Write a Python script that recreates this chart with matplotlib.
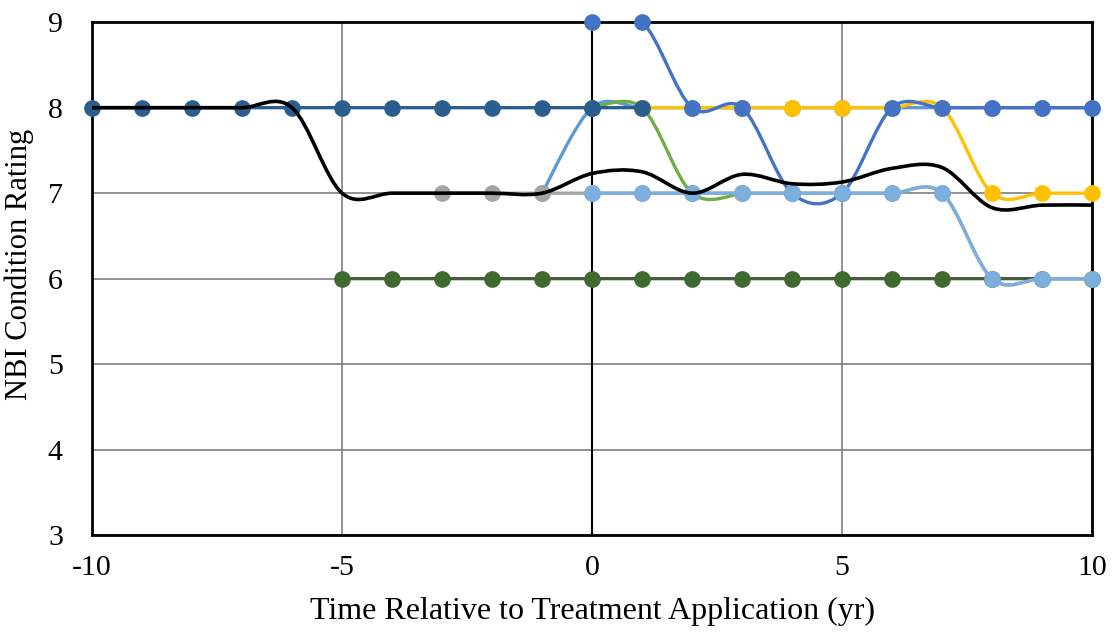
import numpy as np
import matplotlib
matplotlib.use("Agg")
import matplotlib.pyplot as plt
from matplotlib.path import Path
from matplotlib.patches import PathPatch

# ---- data ----
x_steel = list(range(-10, 2))
y_steel = [8] * 12

x_gray = list(range(-3, 11))
y_gray = [7] * 11 + [6, 6, 6]

x_lblue = list(range(-1, 11))
y_lblue = [7] + [8] * 11

x_green = [0, 1, 2, 3]
y_green = [8, 8, 7, 7]

x_gold = list(range(1, 11))
y_gold = [8, 8, 8, 8, 8, 8, 8, 7, 7, 7]

x_dgreen = list(range(-5, 11))
y_dgreen = [6] * 16

x_blue = list(range(0, 11))
y_blue = [9, 9, 8, 8, 7, 7, 8, 8, 8, 8, 8]

x_lblue2 = list(range(0, 11))
y_lblue2 = [7] * 8 + [6, 6, 6]

x_avg = list(range(-10, 11))
y_avg = [8, 8, 8, 8, 8, 7, 7, 7, 7, 7, 7.23, 7.25, 7.0, 7.22, 7.11, 7.13,
         7.29, 7.3, 6.83, 6.86, 6.86]

xticks = [-10, -5, 0, 5, 10]
yticks = [3, 4, 5, 6, 7, 8, 9]

plt.rcParams['font.family'] = ['Liberation Serif', 'DejaVu Serif']
plt.rcParams['axes.unicode_minus'] = False

fig = plt.figure(figsize=(11.14, 6.34), dpi=100)
ax = fig.add_axes([0.0826, 0.156, 0.8977, 0.809])
ax.set_xlim(-10, 10)
ax.set_ylim(3, 9)


def smooth(ax, x, y, color, lw, z, marker=True, mcolor=None, ms=11):
    pts = np.column_stack([x, y]).astype(float)
    n = len(pts)
    verts = [pts[0]]
    codes = [Path.MOVETO]
    for i in range(n - 1):
        p0 = pts[i - 1] if i > 0 else pts[i]
        p1 = pts[i]
        p2 = pts[i + 1]
        p3 = pts[i + 2] if i + 2 < n else pts[i + 1]
        c1 = p1 + (p2 - p0) / 6.0
        c2 = p2 - (p3 - p1) / 6.0
        verts += [c1, c2, p2]
        codes += [Path.CURVE4] * 3
    patch = PathPatch(Path(verts, codes), facecolor='none', edgecolor=color,
                      lw=lw, zorder=z, capstyle='round', joinstyle='round',
                      clip_on=True)
    ax.add_patch(patch)
    if marker:
        ax.plot(x, y, linestyle='none', marker='o', ms=ms,
                color=mcolor or color, zorder=z + 0.1, clip_on=False)


series = [
    (x_lblue, y_lblue, '#5B9BD5', None),
    (x_gray, y_gray, '#A5A5A5', None),
    (x_green, y_green, '#70AD47', None),
    (x_gold, y_gold, '#FFC000', None),
    (x_steel, y_steel, '#2A5E8E', None),
    (x_dgreen, y_dgreen, '#4A5A3E', '#3E6A30'),
    (x_blue, y_blue, '#4472C4', None),
    (x_lblue2, y_lblue2, '#7CAFDD', None),
]
for k, (xs, ys, c, mc) in enumerate(series):
    smooth(ax, xs, ys, c, 2.4, 3 + k, marker=True, mcolor=mc)

smooth(ax, x_avg, y_avg, 'black', 2.6, 20, marker=False)

ax.set_xticks(xticks)
ax.set_yticks(yticks)
ax.grid(True, color='#7f7f7f', lw=1.2, zorder=1)
ax.axvline(0, color='black', lw=1.5, zorder=2)
for s in ax.spines.values():
    s.set_color('black')
    s.set_linewidth(2.0)
    s.set_zorder(2)
ax.tick_params(length=0, labelsize=21.5, pad=14)
ax.tick_params(axis='y', pad=21)
ax.set_xlabel('Time Relative to Treatment Application (yr)', fontsize=23,
              labelpad=12)
ax.set_ylabel('NBI Condition Rating', fontsize=22)
ax.yaxis.set_label_coords(-0.058, 0.528)

fig.savefig('out.png', dpi=100)
